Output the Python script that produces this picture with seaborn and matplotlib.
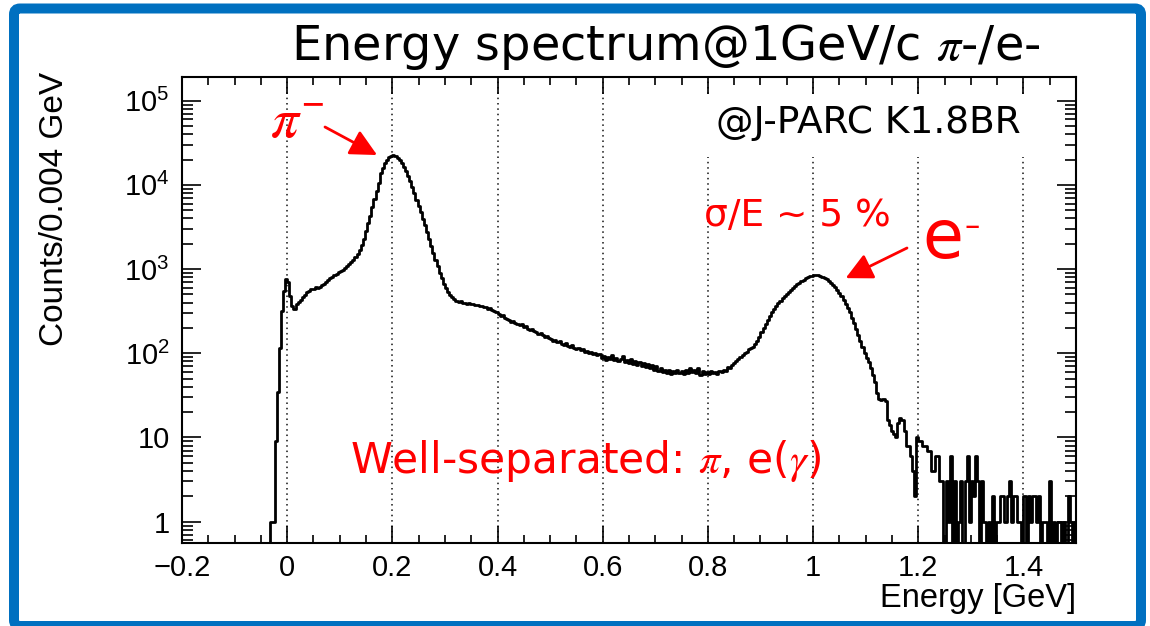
import numpy as np
import pandas as pd
import matplotlib
matplotlib.use("Agg")
import matplotlib.pyplot as plt
import matplotlib.transforms as mtransforms
import seaborn as sns
from matplotlib.ticker import FixedLocator, MultipleLocator, LogLocator, NullFormatter
from matplotlib.patches import FancyBboxPatch, Rectangle

# ---------------- data (counts per 0.004 GeV bin) ----------------
bin_width = 0.004
e_min, e_max = -0.2, 1.5

counts_below_threshold = [0, 0, 0, 0, 0, 0, 0, 0, 0, 0,
                          0, 0, 0, 0, 0, 0, 0, 0, 0, 0,
                          0, 0, 0, 0, 0, 0, 0, 0, 0, 0,
                          0, 0, 0, 0, 0, 0, 0, 0, 0, 0,
                          0, 0]
counts_rise_to_pion = [1, 1, 9, 35, 117, 320, 555, 770, 700, 480,
                       360, 335, 380, 410, 425, 465, 495, 530, 550, 575,
                       585, 605, 600, 620, 640, 670, 700, 735, 780, 805,
                       850, 880, 915, 945, 985, 1030, 1080, 1140, 1200, 1280,
                       1380, 1520, 1700, 1950, 2300, 2800, 3500, 4300, 5400, 6800,
                       8500, 10500, 14000, 16000, 18200, 20000, 21500, 22300, 22500, 22000]
counts_pion_fall = [21000, 19500, 18000, 16300, 14600, 12800, 11000, 9500, 8000, 6700,
                    5600, 4700, 3900, 3300, 2750, 2300, 1900, 1550, 1280, 1080,
                    900, 780, 670, 590, 530, 490, 460, 440, 420, 410,
                    415, 395, 400, 385, 392, 380, 388, 370, 375, 362,
                    368, 352, 358, 340, 345, 330, 318, 310]
counts_plateau = [295, 280, 285, 265, 258, 250, 238, 242, 228, 222,
                  215, 220, 205, 210, 196, 190, 195, 182, 178, 170,
                  175, 163, 158, 162, 150, 148, 140, 145, 135, 138,
                  130, 126, 132, 122, 118, 124, 115, 112, 117, 108,
                  112, 104, 107, 100, 104, 98, 101, 95, 99, 88,
                  92, 84, 90, 86, 95, 83, 88, 80, 86, 92,
                  78, 84, 76, 85, 74, 80, 72, 78, 70, 76,
                  68, 74, 66, 72, 63, 70, 61, 66, 60, 64,
                  58, 63, 57, 62, 59, 64, 58, 62, 56, 63,
                  59, 66, 60, 64, 58, 66, 55, 62, 57, 60]
counts_electron_peak = [56, 61, 58, 60, 57, 62, 60, 64, 62, 68,
                        66, 72, 76, 80, 86, 90, 95, 100, 104, 112,
                        115, 120, 128, 138, 155, 180, 200, 225, 250, 280,
                        310, 340, 365, 395, 420, 450, 480, 510, 540, 570,
                        600, 630, 660, 690, 720, 750, 775, 800, 820, 835,
                        845, 850, 845, 835, 815, 790, 760, 725, 690, 650,
                        610, 565, 520, 475, 430, 385, 345, 305, 265, 230,
                        195, 165, 140, 118, 100, 88, 78, 66, 55, 45]
counts_electron_tail = [34, 29, 28, 29, 27, 16, 14, 12, 11, 10,
                        15, 17, 16, 12, 8, 8, 6, 4, 2, 10,
                        9, 9, 8, 8, 7, 7, 4, 4, 6, 6,
                        3]
counts_high_energy = [3, 0, 3, 1, 6, 0, 3, 0, 1, 3,
                      0, 3, 6, 1, 3, 2, 6, 3, 0, 3,
                      1, 0, 1, 0, 2, 0, 1, 1, 2, 2,
                      1, 2, 3, 1, 2, 2, 1, 1, 0, 2,
                      0, 2, 1, 2, 2, 1, 2, 0, 1, 1,
                      0, 3, 0, 1, 0, 1, 1, 0, 1, 0,
                      2, 1, 0, 1]

x_ticks = [-0.2, 0.0, 0.2, 0.4, 0.6, 0.8, 1.0, 1.2, 1.4]
x_tick_labels = ["\u22120.2", "0", "0.2", "0.4", "0.6", "0.8", "1", "1.2", "1.4"]
y_ticks = [1, 10, 100, 1000, 10000, 100000]
y_tick_labels = ["1", "10", r"$\mathregular{10^{2}}$", r"$\mathregular{10^{3}}$",
                 r"$\mathregular{10^{4}}$", r"$\mathregular{10^{5}}$"]

counts = np.array(counts_below_threshold + counts_rise_to_pion + counts_pion_fall +
                  counts_plateau + counts_electron_peak + counts_electron_tail +
                  counts_high_energy, dtype=float)
edges = e_min + bin_width * np.arange(len(counts) + 1)

# ---------------- style ----------------
sns.set_style("ticks")
plt.rcParams["font.family"] = ["Liberation Sans", "DejaVu Sans"]
plt.rcParams["mathtext.fontset"] = "custom"
plt.rcParams["mathtext.rm"] = "Liberation Sans"
plt.rcParams["mathtext.it"] = "Liberation Sans:italic"
plt.rcParams["mathtext.bf"] = "Liberation Sans:bold"
for key in ["text.color", "axes.labelcolor", "xtick.color", "ytick.color", "axes.edgecolor"]:
    plt.rcParams[key] = "black"

W, H = 1150, 626
def fx(px):
    return px / W
def fy(py):
    return 1 - py / H

fig = plt.figure(figsize=(W / 100, H / 100), dpi=100)
fig.patch.set_facecolor("white")
ax = fig.add_axes([fx(182), fy(543), (1076 - 182) / W, (543 - 77) / H])

y_lo, y_hi = 0.558, 1.91e5
plot_vals = np.where(counts > 0, counts, y_lo)
df = pd.DataFrame({"energy": edges, "counts": np.append(plot_vals, plot_vals[-1])})
sns.lineplot(data=df, x="energy", y="counts", drawstyle="steps-post", estimator=None,
             color="black", linewidth=2.0, ax=ax, zorder=3)

ax.set_yscale("log")
ax.set_xlim(e_min, e_max)
ax.set_ylim(y_lo, y_hi)

ax.xaxis.set_major_locator(FixedLocator(x_ticks))
ax.set_xticklabels(x_tick_labels)
ax.xaxis.set_minor_locator(MultipleLocator(0.05))
ax.yaxis.set_major_locator(FixedLocator(y_ticks))
ax.set_yticklabels(y_tick_labels)
ax.yaxis.set_minor_locator(LogLocator(base=10, subs=np.arange(2, 10), numticks=40))
ax.yaxis.set_minor_formatter(NullFormatter())

ax.tick_params(which="both", direction="in", bottom=True, left=True, top=True, right=True,
               colors="black", width=1.2)
ax.tick_params(axis="x", which="major", length=12, labelsize=21, pad=8)
ax.tick_params(axis="x", which="minor", length=6)
ax.tick_params(axis="y", which="major", length=14, labelsize=21, pad=9)
ax.tick_params(axis="y", which="minor", length=8)

ax.grid(True, axis="x", which="major", color="#111111", linestyle=(0, (1, 2.5)), linewidth=1.1)
ax.grid(False, axis="y")
ax.set_axisbelow(True)
for s in ax.spines.values():
    s.set_visible(True)
    s.set_color("black")
    s.set_linewidth(1.5)

ax.set_xlabel("Energy [GeV]", fontsize=23.5, loc="right", color="black")
ax.xaxis.set_label_coords(1.0, -0.085)
ax.set_ylabel("Counts/0.004 GeV", fontsize=24, loc="top", color="black")
ax.yaxis.set_label_coords(-0.125, 1.01)

# white box behind the facility label
fig.patches.append(Rectangle((fx(690), fy(157)), (1045 - 690) / W, (157 - 95) / H,
                             transform=fig.transFigure, facecolor="white",
                             edgecolor="none", zorder=1))

# texts
fig.text(fx(666), fy(60), r"Energy spectrum@1GeV/c $\pi$-/e-", ha="center", va="baseline",
         fontsize=34.5, family="DejaVu Sans", math_fontfamily="stix", color="black")
fig.text(fx(868), fy(133), "@J-PARC K1.8BR", ha="center", va="baseline",
         fontsize=27, family="DejaVu Sans", color="black")
fig.text(fx(797), fy(226), "\u03c3/E ~ 5 %", ha="center", va="baseline",
         fontsize=27, family="DejaVu Sans", color="red")
fig.text(fx(586), fy(473), r"Well-separated: $\pi$, e($\gamma$)", ha="center", va="baseline",
         fontsize=30.5, family="DejaVu Sans", math_fontfamily="stix", color="red")
fig.text(fx(270), fy(138), r"$\pi^{\mathregular{-}}$", ha="left", va="baseline", fontsize=40,
         math_fontfamily="stix", color="red")
fig.text(fx(922), fy(258), "e", ha="left", va="baseline", fontsize=48,
         family="DejaVu Sans", color="red")
fig.text(fx(964), fy(235), "\u2013", ha="left", va="baseline", fontsize=22,
         family="DejaVu Sans", color="red")

arrow_kw = dict(arrowstyle="-|>,head_length=0.9,head_width=0.45", color="red", lw=2,
                shrinkA=0, shrinkB=0, mutation_scale=18)
ax.annotate("", xy=(0.171, 2.26e4), xycoords="data", xytext=(fx(325), fy(127)),
            textcoords="figure fraction", arrowprops=arrow_kw)
ax.annotate("", xy=(1.062, 780), xycoords="data", xytext=(fx(907), fy(248)),
            textcoords="figure fraction", arrowprops=arrow_kw)

# blue slide frame
frame = FancyBboxPatch((14, 0), 1141 - 14, 617.5, boxstyle="round,pad=0,rounding_size=6",
                       transform=mtransforms.IdentityTransform(), facecolor="none",
                       edgecolor="#0070C0", linewidth=7.2, zorder=5)
fig.patches.append(frame)

fig.savefig("out.png", dpi=100, facecolor="white")
